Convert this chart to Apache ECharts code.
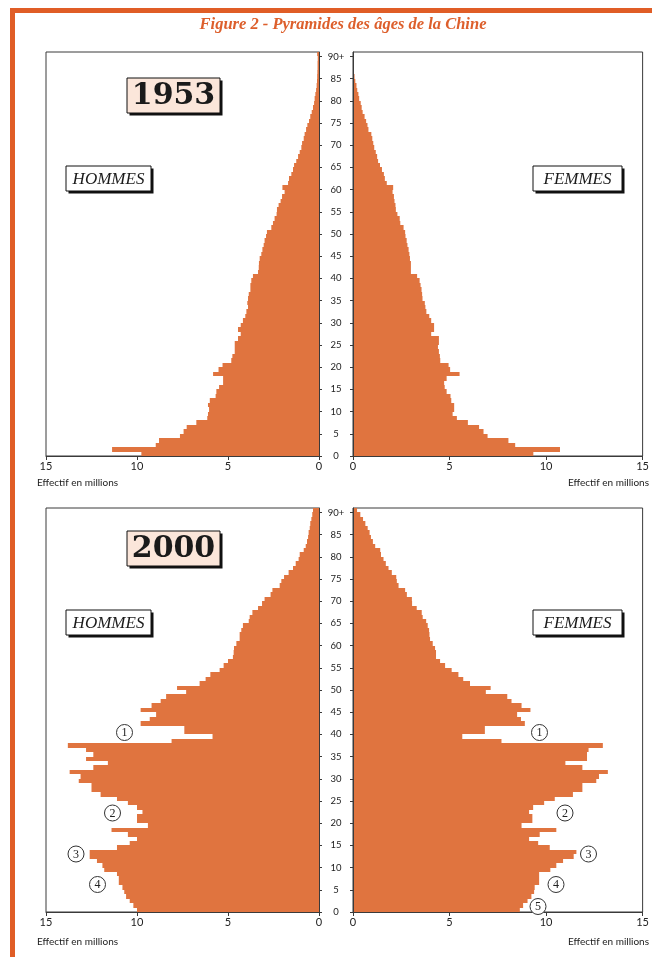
<!DOCTYPE html>
<html>
<head>
<meta charset="utf-8">
<script src="https://cdn.jsdelivr.net/npm/echarts@6/dist/echarts.min.js"></script>
<style>
html,body{margin:0;padding:0;background:#fff;}
#chart{width:652px;height:957px;}
</style>
</head>
<body>
<div id="chart"></div>
<script>
// ---- Data (millions of persons, single year of age 0..89 and 90+) ----
const ageCategories = ['0','1','2','3','4','5','6','7','8','9','10','11','12','13','14','15','16','17','18','19','20','21','22','23','24','25','26','27','28','29','30','31','32','33','34','35','36','37','38','39','40','41','42','43','44','45','46','47','48','49','50','51','52','53','54','55','56','57','58','59','60','61','62','63','64','65','66','67','68','69','70','71','72','73','74','75','76','77','78','79','80','81','82','83','84','85','86','87','88','89','90+'];
const ageTickValues = [0,5,10,15,20,25,30,35,40,45,50,55,60,65,70,75,80,85,90];
const valueTickLabels = [0,5,10,15];

const men1953 = [9.76,11.37,8.97,8.79,7.64,7.44,7.27,6.74,6.14,6.10,
  6.04,6.10,6.00,5.68,5.64,5.49,5.27,5.27,5.82,5.52,
  5.30,4.82,4.76,4.63,4.63,4.63,4.45,4.30,4.45,4.30,
  4.18,4.05,3.99,3.90,3.94,3.90,3.86,3.77,3.77,3.72,
  3.63,3.35,3.31,3.30,3.26,3.17,3.11,3.04,2.99,2.91,
  2.86,2.62,2.53,2.44,2.33,2.31,2.22,2.11,2.03,1.89,
  2.01,1.70,1.65,1.52,1.43,1.37,1.25,1.15,1.06,0.97,
  0.93,0.84,0.79,0.71,0.64,0.55,0.48,0.40,0.33,0.27,
  0.24,0.20,0.16,0.13,0.11,0.10,0.09,0.08,0.08,0.07,
  0.10];
const women1953 = [9.34,10.72,8.40,8.05,6.97,6.76,6.53,5.95,5.38,5.16,
  5.24,5.24,5.09,5.05,4.85,4.75,4.72,4.85,5.52,5.03,
  4.95,4.52,4.50,4.45,4.40,4.45,4.45,4.05,4.20,4.20,
  4.05,3.95,3.80,3.75,3.72,3.60,3.58,3.55,3.50,3.45,
  3.32,3.00,3.00,3.00,2.95,2.92,2.88,2.82,2.78,2.72,
  2.70,2.62,2.45,2.42,2.30,2.22,2.20,2.15,2.12,2.05,
  2.08,1.75,1.65,1.60,1.50,1.40,1.30,1.25,1.18,1.10,
  1.05,1.00,0.95,0.80,0.75,0.68,0.60,0.50,0.45,0.40,
  0.32,0.28,0.22,0.18,0.12,0.08,0.04,0.02,0.02,0.02,
  0.02];
const men2000 = [10.0,10.2,10.4,10.6,10.7,10.8,11.0,11.0,11.1,11.8,
  11.9,12.2,12.6,12.6,11.1,10.4,10.0,10.5,11.4,9.4,
  10.0,10.0,9.7,10.0,10.5,11.1,12.0,12.5,12.5,13.2,
  13.1,13.7,12.4,11.6,12.8,12.4,12.8,13.8,8.1,5.85,
  7.4,7.4,9.8,9.3,8.95,9.8,9.2,8.7,8.4,7.3,
  7.8,6.56,6.23,5.97,5.46,5.24,5.00,4.73,4.69,4.67,
  4.54,4.36,4.36,4.27,4.18,3.86,3.81,3.66,3.35,3.13,
  2.99,2.66,2.56,2.16,2.07,1.92,1.67,1.43,1.28,1.12,
  1.06,0.84,0.73,0.66,0.60,0.57,0.51,0.48,0.42,0.37,
  0.33];
const women2000 = [8.64,8.81,9.04,9.24,9.38,9.41,9.64,9.64,9.64,10.22,
  10.53,10.88,11.43,11.57,10.19,9.59,9.12,9.67,10.53,8.73,
  9.29,9.29,9.12,9.33,9.90,10.45,11.39,11.88,11.88,12.60,
  12.74,13.20,11.88,11.00,12.12,12.12,12.20,12.94,7.69,5.66,
  6.83,6.83,8.90,8.70,8.50,9.19,8.73,8.21,7.99,6.88,
  7.13,6.06,5.71,5.46,5.11,4.77,4.51,4.30,4.30,4.25,
  4.13,3.99,3.96,3.94,3.87,3.79,3.61,3.56,3.30,3.06,
  3.05,2.79,2.70,2.36,2.27,2.24,2.01,1.84,1.70,1.58,
  1.45,1.41,1.15,1.03,0.93,0.86,0.76,0.64,0.52,0.38,
  0.21];

// ---- Styling / layout ----
const BAR = '#e0743f';
const AXIS = '#3a3a3a';
const LABEL_FONT = 'Lato';
const panels = [
  {data: men1953,   left: 46,  top: 52,  width: 273, side: 'L'},
  {data: women1953, left: 353, top: 52,  width: 290, side: 'R'},
  {data: men2000,   left: 46,  top: 508, width: 273, side: 'L'},
  {data: women2000, left: 353, top: 508, width: 290, side: 'R'}
];
const PH = 404;

// one bar per age, drawn through the axis scales; edges snapped to whole pixels so
// neighbouring bars share an exact edge (no anti-aliasing seams)
function renderBar(params, api) {
  const v = api.value(0), cat = api.value(1);
  const p0 = api.coord([0, cat]);
  const p1 = api.coord([v, cat]);
  const h = api.size([0, 1])[1];
  const y0 = Math.round(p0[1] - h / 2), y1 = Math.round(p0[1] + h / 2);
  return {type: 'rect',
    shape: {x: Math.min(p0[0], p1[0]), y: y0, width: Math.abs(p1[0] - p0[0]), height: y1 - y0},
    style: {fill: BAR}};
}

const grids = [], xAxes = [], yAxes = [], series = [];
panels.forEach((p, i) => {
  const isL = p.side === 'L';
  grids.push({left: p.left, top: p.top, width: p.width, height: PH, show: true,
    borderColor: AXIS, borderWidth: 1, backgroundColor: 'transparent', containLabel: false});
  xAxes.push({gridIndex: i, type: 'value', min: 0, max: 15, interval: 5, inverse: isL,
    axisLine: {show: true, lineStyle: {color: AXIS, width: 1}},
    axisTick: {show: true, length: 4, lineStyle: {color: AXIS}},
    axisLabel: {fontFamily: LABEL_FONT, fontSize: 11, color: '#222', margin: 5,
      customValues: valueTickLabels},
    splitLine: {show: false}, z: 3});
  yAxes.push({gridIndex: i, type: 'category', data: ageCategories, position: isL ? 'left' : 'right',
    show: false, boundaryGap: true});
  yAxes.push({gridIndex: i, type: 'value', min: 0, max: 91, interval: 5,
    position: isL ? 'right' : 'left', z: 3,
    axisLine: {show: true, lineStyle: {color: AXIS, width: 1}},
    axisTick: {show: true, length: 3, lineStyle: {color: AXIS}, customValues: ageTickValues},
    axisLabel: {show: !isL, align: 'center', margin: 17, fontFamily: LABEL_FONT, fontSize: 9.5,
      color: '#222', customValues: ageTickValues,
      formatter: v => (v === 90 ? '90+' : String(v))},
    splitLine: {show: false}, splitArea: {show: false}});
  series.push({type: 'custom', xAxisIndex: i, yAxisIndex: i * 2,
    data: p.data.map((v, k) => [v, k]), encode: {x: 0, y: 1},
    renderItem: renderBar, silent: true, animation: false, clip: false});
});

function box(x, y, w, h, text, font, fill, sh) {
  return [
    {type: 'rect', shape: {x: x + sh, y: y + sh, width: w, height: h}, style: {fill: '#111'}, z: 20},
    {type: 'rect', shape: {x: x, y: y, width: w, height: h}, style: {fill: fill, stroke: '#111', lineWidth: 1}, z: 21},
    {type: 'text', x: x + w / 2, y: y + h / 2 + 1, z: 22,
      style: {text: text, font: font, fill: '#1a1a1a', align: 'center', verticalAlign: 'middle'}}
  ];
}
function circled(cx, cy, n) {
  return [
    {type: 'circle', shape: {cx: cx, cy: cy, r: 8}, style: {fill: '#fff', stroke: '#333', lineWidth: 1}, z: 20},
    {type: 'text', x: cx, y: cy + 0.5, z: 21,
      style: {text: n, font: '12px "Liberation Serif"', fill: '#222', align: 'center', verticalAlign: 'middle'}}
  ];
}

const yearFont = 'bold 30px "DejaVu Serif"';
const sexFont = 'italic 17px "Liberation Serif"';
const effFont = '10px ' + LABEL_FONT;
const graphics = [].concat(
  [{type: 'rect', shape: {x: 10, y: 8, width: 642, height: 5}, style: {fill: '#e05d26'}, z: 30},
   {type: 'rect', shape: {x: 10, y: 8, width: 5, height: 949}, style: {fill: '#e05d26'}, z: 30},
   {type: 'text', x: 343, y: 25, z: 30, style: {text: 'Figure 2 - Pyramides des âges de la Chine',
     font: 'italic bold 16.5px "Liberation Serif"', fill: '#dd5f2c', align: 'center', verticalAlign: 'middle'}}],
  box(127, 78, 93, 35, '1953', yearFont, '#fbe6da', 2.5),
  box(66, 166, 85, 25, 'HOMMES', sexFont, '#fff', 2.5),
  box(533, 166, 89, 25, 'FEMMES', sexFont, '#fff', 2.5),
  box(127, 531, 93, 35, '2000', yearFont, '#fbe6da', 2.5),
  box(66, 610, 85, 25, 'HOMMES', sexFont, '#fff', 2.5),
  box(533, 610, 89, 25, 'FEMMES', sexFont, '#fff', 2.5),
  [{type: 'text', x: 37, y: 483, z: 30, style: {text: 'Effectif en millions', font: effFont, fill: '#222', align: 'left', verticalAlign: 'middle'}},
   {type: 'text', x: 649, y: 483, z: 30, style: {text: 'Effectif en millions', font: effFont, fill: '#222', align: 'right', verticalAlign: 'middle'}},
   {type: 'text', x: 37, y: 941.5, z: 30, style: {text: 'Effectif en millions', font: effFont, fill: '#222', align: 'left', verticalAlign: 'middle'}},
   {type: 'text', x: 649, y: 941.5, z: 30, style: {text: 'Effectif en millions', font: effFont, fill: '#222', align: 'right', verticalAlign: 'middle'}}],
  circled(124.5, 732.5, '1'), circled(112.5, 813, '2'), circled(76, 854, '3'), circled(97.5, 884.5, '4'),
  circled(539.5, 732.5, '1'), circled(565, 813, '2'), circled(588.5, 854, '3'), circled(556, 884.5, '4'),
  circled(538, 906.5, '5')
);

const chart = echarts.init(document.getElementById('chart'), null, {renderer: 'canvas'});
chart.setOption({
  animation: false,
  backgroundColor: '#fff',
  grid: grids, xAxis: xAxes, yAxis: yAxes, series: series,
  graphic: {elements: graphics}
});
</script>
</body>
</html>
